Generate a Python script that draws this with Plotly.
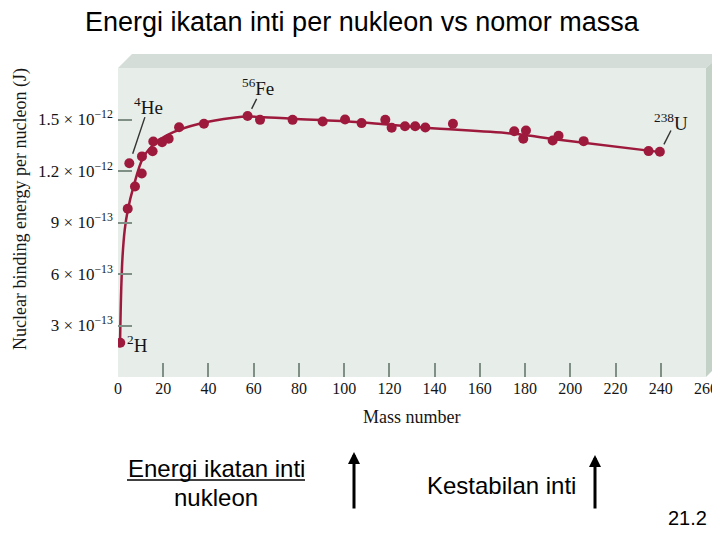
import plotly.graph_objects as go

# binding energy per nucleon, in units of 1e-13 J
mass_number = [1, 4.3, 5, 7.5, 10.5, 10.6, 15.3, 15.6, 19.5, 22.4, 27, 38, 57.3, 62.8, 77.2,
               90.5, 100.4, 107.7, 118.2, 121, 126.9, 131.4, 135.9, 148.1, 175.2, 180.4,
               179.2, 192.2, 194.8, 205.9, 234.6, 239.6]
binding = [2.0, 9.8, 12.45, 11.1, 11.85, 12.85, 13.15, 13.72, 13.68, 13.88, 14.55, 14.75, 15.2,
           14.98, 14.98, 14.88, 15.0, 14.79, 14.98, 14.52, 14.61, 14.61, 14.53, 14.75, 14.32,
           14.36, 13.88, 13.78, 14.05, 13.74, 13.16, 13.12]

# smooth trend curve
curve_a = [0.9, 1.4, 2.0, 3.0, 4.3, 6.8, 11.2, 17, 24.5, 36, 51, 58, 77, 107, 136, 175, 195, 240]
curve_e = [2.0, 5.0, 7.0, 8.6, 9.7, 11.06, 12.8, 13.68, 14.26, 14.75, 15.1, 15.17, 15.04,
           14.84, 14.52, 14.17, 13.82, 13.1]

x_ticks = list(range(0, 261, 20))
y_ticks = [3, 6, 9, 12, 15]
y_ticktext = ["3 × 10<sup>−13</sup>", "6 × 10<sup>−13</sup>", "9 × 10<sup>−13</sup>",
              "1.2 × 10<sup>−12</sup>", "1.5 × 10<sup>−12</sup>"]

RED = "#9e1a3d"
SERIF = "Liberation Serif"
SANS = "Liberation Sans"
TICK = "#7f8f86"
INK = "#151515"
OFF = 8  # page body margin of the html page


def px(x):
    return (x - 118) / 588


def py(y):
    return (377 - y) / 309


def label(x, y, text, family, size, color="black", **kw):
    return dict(x=px(x), y=py(y), xref="paper", yref="paper", showarrow=False, text=text,
                xanchor="center", yanchor="middle", font=dict(family=family, size=size, color=color), **kw)


def iso(x, y, text):
    return dict(x=x, y=y, text=text, showarrow=False, xanchor="center", yanchor="middle",
                font=dict(family=SERIF, size=19, color=INK))


fig = go.Figure()
fig.add_trace(go.Scatter(x=curve_a, y=curve_e, mode="lines", line=dict(color=RED, width=2.5, shape="spline"),
                         hoverinfo="skip", showlegend=False))
fig.add_trace(go.Scatter(x=mass_number, y=binding, mode="markers",
                         marker=dict(color=RED, size=10), showlegend=False))

shapes = [
    # top face of the box
    dict(type="path", xref="paper", yref="paper", layer="below", line=dict(width=0), fillcolor="#d4ddd7",
         path=f"M {px(118)},{py(68)} L {px(132)},{py(54)} L {px(722)},{py(54)} L {px(706)},{py(68)} Z"),
    # right face
    dict(type="path", xref="paper", yref="paper", layer="below", line=dict(width=0), fillcolor="#c3d1c7",
         path=f"M {px(706)},{py(68)} L {px(722)},{py(54)} L {px(722)},{py(361)} L {px(706)},{py(377)} Z"),
    # leader lines
    dict(type="line", x0=11.9, y0=15.14, x1=6.5, y1=13.0, line=dict(color="#333", width=1.4)),
    dict(type="line", x0=61.3, y0=16.2, x1=59.1, y1=15.62, line=dict(color="#333", width=1.4)),
    dict(type="line", x0=244.5, y0=14.36, x1=241.4, y1=13.55, line=dict(color="#333", width=1.4)),
    # underline
    dict(type="line", xref="paper", yref="paper", x0=px(127), x1=px(305), y0=py(480), y1=py(480),
         line=dict(color="black", width=1.5)),
]

ann = [
    label(362, 22, "Energi ikatan inti per nukleon vs nomor massa", SANS, 27),
    label(20, 209, "Nuclear binding energy per nucleon (J)", SERIF, 18, INK, textangle=-90),
    label(412, 417, "Mass number", SERIF, 18, INK),
    iso(13.5, 15.8, "<sup>4</sup>He"),
    iso(62, 16.9, "<sup>56</sup>Fe"),
    iso(244.7, 14.85, "<sup>238</sup>U"),
    iso(8.5, 1.95, "<sup>2</sup>H"),
    label(216, 468, "Energi ikatan inti", SANS, 24),
    label(216, 497, "nukleon", SANS, 24),
    label(501, 485, "Kestabilan inti", SANS, 24),
    label(687, 518, "21.2", SANS, 20),
    dict(x=px(354), y=py(452), xref="paper", yref="paper", text="", showarrow=True, ax=0, ay=58,
         arrowhead=2, arrowsize=0.8, arrowwidth=3, arrowcolor="black"),
    dict(x=px(595), y=py(455), xref="paper", yref="paper", text="", showarrow=True, ax=0, ay=55,
         arrowhead=2, arrowsize=0.8, arrowwidth=3, arrowcolor="black"),
]

fig.update_layout(
    width=720, height=540,
    margin=dict(l=118 - OFF, r=720 - 706 + OFF, t=68 - OFF, b=540 - 377 + OFF, autoexpand=False),
    paper_bgcolor="white", plot_bgcolor="#e7ede9",
    shapes=shapes, annotations=ann,
    xaxis=dict(range=[0, 260], tickvals=x_ticks, ticks="inside", ticklen=14, tickwidth=1.5, tickcolor=TICK,
               showgrid=False, zeroline=False, showline=False, automargin=False,
               tickfont=dict(family=SERIF, size=16, color=INK)),
    yaxis=dict(range=[0, 18], tickvals=y_ticks, ticktext=y_ticktext, ticks="inside", ticklen=14,
               tickwidth=1.5, tickcolor=TICK, showgrid=False, zeroline=False, showline=False, automargin=False,
               ticklabelstandoff=4, tickfont=dict(family=SERIF, size=17, color=INK)),
)

fig.write_html("out.html")
